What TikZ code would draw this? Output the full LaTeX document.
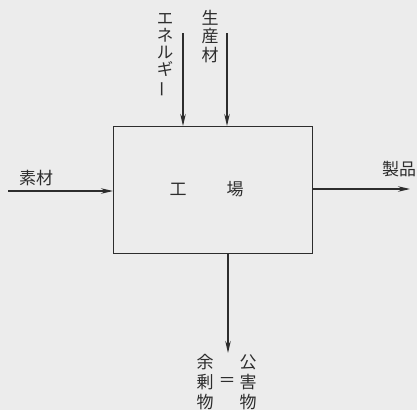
\documentclass[tikz,border=0pt]{standalone}
\usepackage{fontspec}
\newfontfamily\jp{Noto Sans CJK JP}
\usetikzlibrary{arrows.meta}
\definecolor{bgc}{RGB}{236,236,236}
\definecolor{inkc}{RGB}{45,45,45}
\begin{document}
\begin{tikzpicture}[x=1pt,y=-1pt,
  ink/.style={draw=inkc, line width=1.3pt},
  flow/.style={ink, -{Stealth[length=12pt,width=5.5pt]}},
  lbl/.style={font=\jp\fontsize{17}{20}\selectfont, text=inkc, inner sep=0pt, align=center},
]
\fill[bgc] (0,0) rectangle (417,410);
\useasboundingbox (0,0) rectangle (417,410);
% factory box
\node[ink, minimum width=199pt, minimum height=127pt, inner sep=0pt, anchor=north west] (factory) at (113,126) {};
\node[lbl] (ko) at (178,189) {工};
\node[lbl] (jo) at (235,189) {場};
% inputs from top
\coordinate (etop) at (183,33);
\coordinate (ptop) at (227,33);
\draw[flow] (etop) -- (etop |- factory.north);
\draw[flow] (ptop) -- (ptop |- factory.north);
\node[lbl, font=\jp\fontsize{16.5}{17.2}\selectfont, anchor=north] (energy) at (165,13) {エ\\ネ\\ル\\ギ\\\rotatebox[origin=c]{90}{ー}};
\node[lbl, font=\jp\fontsize{17}{18.5}\selectfont, anchor=north] (seisan) at (210,10) {生\\産\\材};
% raw material from left
\coordinate (sleft) at (8,191);
\draw[flow] (sleft) -- (sleft -| factory.west);
\node[lbl] (sozai) at (36,178) {素材};
% product to right
\coordinate (pright) at (410,189);
\draw[flow] (pright -| factory.east) -- (pright);
\node[lbl] (seihin) at (399,169) {製品};
% waste downward
\coordinate (wbot) at (228,353);
\draw[flow] (wbot |- factory.south) -- (wbot);
\node[lbl, anchor=north] (yojo) at (205,354) {余\\剰\\物};
\node[lbl] (eq) at (227,382) {＝};
\node[lbl, anchor=north] (kogai) at (248,355) {公\\害\\物};
\end{tikzpicture}
\end{document}
